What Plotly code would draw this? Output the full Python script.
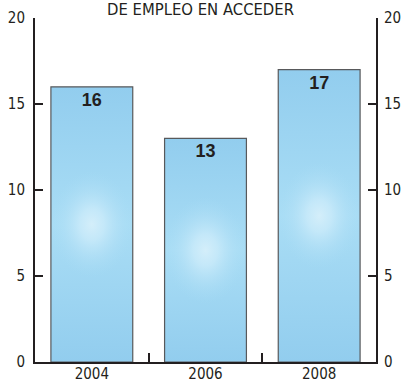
import plotly.graph_objects as go

# Data
years = ["2004", "2006", "2008"]
values = [16, 13, 17]
y_ticks = [0, 5, 10, 15, 20]

# Layout geometry (px)
W, H = 401, 383
M_L, M_R, M_T, M_B = 35, 25, 18, 21
plot_w = W - M_L - M_R
plot_h = H - M_T - M_B
x_range = [-0.5, len(years) - 0.5]
y_range = [0, 20]
bar_w = 0.72

ink = "#231F20"
edge = "#58595B"
narrow = "Liberation Sans Narrow, DejaVu Sans Condensed, Roboto, sans-serif"
tick_font = dict(family=narrow, size=15, color=ink)

xs = list(range(len(years)))
fig = go.Figure()

# vertical shading of each bar body
for i, v in zip(xs, values):
    x0, x1 = i - bar_w / 2, i + bar_w / 2
    fig.add_trace(go.Scatter(
        x=[x0, x1, x1, x0, x0], y=[0, 0, v, v, 0],
        mode="lines", fill="toself", line=dict(width=0),
        fillgradient=dict(type="vertical",
                          colorscale=[[0, "#92CDEE"], [0.5, "#A9DDF5"], [1, "#92CDEE"]]),
        hoverinfo="skip", showlegend=False,
    ))

# soft highlight in the middle of each bar (square in screen space)
px_per_x = plot_w / (x_range[1] - x_range[0])
px_per_y = plot_h / (y_range[1] - y_range[0])
half_h = (bar_w / 2) * px_per_x / px_per_y * 1.3
for i, v in zip(xs, values):
    x0, x1 = i - bar_w / 2, i + bar_w / 2
    yc = v / 2
    fig.add_trace(go.Scatter(
        x=[x0, x1, x1, x0, x0], y=[yc - half_h, yc - half_h, yc + half_h, yc + half_h, yc - half_h],
        mode="lines", fill="toself", line=dict(width=0),
        fillgradient=dict(type="radial",
                          colorscale=[[0, "rgba(214,239,250,0.95)"], [0.3, "rgba(203,235,250,0.8)"],
                                      [0.65, "rgba(185,227,247,0.4)"], [1, "rgba(169,221,245,0)"]]),
        hoverinfo="skip", showlegend=False,
    ))

# bar outlines and value labels on the overlay axes
fig.add_trace(go.Bar(
    x=xs, y=values, width=bar_w, xaxis="x2", yaxis="y2",
    marker=dict(color="rgba(0,0,0,0)", line=dict(color=edge, width=1.2)),
    text=[str(v) for v in values], textposition="inside", insidetextanchor="end",
    textangle=0,
    textfont=dict(family="Liberation Sans, Arial, sans-serif", size=18, color=ink, weight="bold"),
    hoverinfo="skip", showlegend=False,
))

fig.update_layout(
    width=W, height=H,
    margin=dict(l=M_L, r=M_R, t=M_T, b=M_B, pad=0, autoexpand=False),
    paper_bgcolor="white", plot_bgcolor="white",
    title=dict(text="DE EMPLEO EN ACCEDER", x=0.5, xanchor="center",
               y=1 - 9 / H, yanchor="middle", yref="container",
               font=dict(family=narrow, size=16.5, color=ink)),
    xaxis=dict(range=x_range, tickvals=xs, ticktext=years, ticks="", showline=False,
               showgrid=False, zeroline=False, tickfont=tick_font, ticklabelstandoff=1,
               automargin=False),
    xaxis2=dict(range=x_range, overlaying="x", anchor="y2", side="bottom",
                tickvals=[0.5, 1.5], ticks="inside", ticklen=9, tickwidth=2, tickcolor=ink,
                showticklabels=False, showline=True, linecolor=ink, linewidth=2,
                showgrid=False, zeroline=False, automargin=False),
    yaxis=dict(range=y_range, tickvals=y_ticks, ticks="inside", ticklen=8, tickwidth=2,
               tickcolor=ink, showline=True, linecolor=ink, linewidth=2, showgrid=False,
               zeroline=False, tickfont=tick_font, ticklabelstandoff=5, automargin=False),
    yaxis2=dict(range=y_range, overlaying="y", side="right", anchor="x2", tickvals=y_ticks,
                ticks="inside", ticklen=8, tickwidth=2, tickcolor=ink, showline=True,
                linecolor=ink, linewidth=2, showgrid=False, zeroline=False,
                tickfont=tick_font, ticklabelstandoff=3, automargin=False),
)

fig.write_html("out.html")
